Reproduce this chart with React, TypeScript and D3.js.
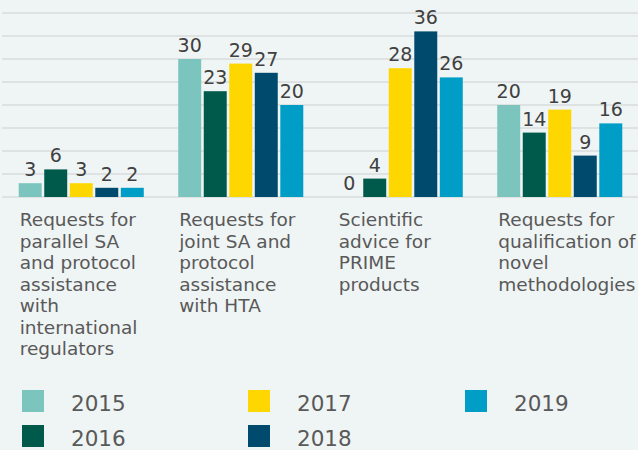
import { useEffect, useRef } from 'react';
import * as d3 from 'd3';

// category labels, with the line breaks used in the chart
const categories = [
  'Requests for\nparallel SA\nand protocol\nassistance\nwith\ninternational\nregulators',
  'Requests for\njoint SA and\nprotocol\nassistance\nwith HTA',
  'Scientific\nadvice for\nPRIME\nproducts',
  'Requests for\nqualification of\nnovel\nmethodologies',
];

const years = ['2015', '2016', '2017', '2018', '2019'];

const values2015 = [3, 30, 0, 20];
const values2016 = [6, 23, 4, 14];
const values2017 = [3, 29, 28, 19];
const values2018 = [2, 27, 36, 9];
const values2019 = [2, 20, 26, 16];

const yTicks = [0, 5, 10, 15, 20, 25, 30, 35, 40];

const colors = ['#7cc5be', '#005a4c', '#ffd700', '#004a6d', '#009dc6'];

export default function App() {
  const svgRef = useRef<SVGSVGElement>(null);

  useEffect(() => {
    if (!svgRef.current) return;
    const width = 638;
    const height = 450;
    const fontFamily = '"DejaVu Sans", Verdana, sans-serif';

    const svg = d3.select(svgRef.current);
    svg.selectAll('*').remove();
    svg.attr('width', width).attr('height', height);

    svg
      .append('rect')
      .attr('width', width)
      .attr('height', height)
      .attr('fill', '#eff4f4');

    const series = [values2015, values2016, values2017, values2018, values2019];
    const table = categories.map((c, i) => ({
      category: c,
      values: years.map((y, j) => ({ year: y, value: series[j][i] })),
    }));

    const x0 = d3
      .scaleBand()
      .domain(categories)
      .range([1.5, 639.5])
      .paddingInner(0.216)
      .paddingOuter(0.108);

    const x1 = d3
      .scaleBand()
      .domain(years)
      .range([0, x0.bandwidth()])
      .paddingInner(0.1);

    const y = d3.scaleLinear().domain([0, 40]).range([197, 13]);

    const color = d3.scaleOrdinal<string, string>().domain(years).range(colors);

    // gridlines
    svg
      .append('g')
      .selectAll('line')
      .data(yTicks)
      .enter()
      .append('line')
      .attr('x1', 2)
      .attr('x2', width)
      .attr('y1', (d) => y(d))
      .attr('y2', (d) => y(d))
      .attr('stroke', '#d9dddd')
      .attr('stroke-width', 1.5);

    const groups = svg
      .append('g')
      .selectAll('g')
      .data(table)
      .enter()
      .append('g')
      .attr('transform', (d) => `translate(${x0(d.category)},0)`);

    groups
      .selectAll('rect')
      .data((d) => d.values)
      .enter()
      .append('rect')
      .attr('x', (d) => x1(d.year) || 0)
      .attr('y', (d) => y(d.value))
      .attr('width', x1.bandwidth())
      .attr('height', (d) => y(0) - y(d.value))
      .attr('fill', (d) => color(d.year));

    groups
      .selectAll('text.value')
      .data((d) => d.values)
      .enter()
      .append('text')
      .attr('class', 'value')
      .attr('x', (d) => (x1(d.year) || 0) + x1.bandwidth() / 2)
      .attr('y', (d) => y(d.value) - 7)
      .attr('text-anchor', 'middle')
      .style('font-family', fontFamily)
      .style('font-size', '19px')
      .style('fill', '#404040')
      .text((d) => d.value);

    // category labels under the groups
    groups
      .append('text')
      .attr('x', 2)
      .attr('y', 226)
      .style('font-family', fontFamily)
      .style('font-size', '18.5px')
      .style('fill', '#595959')
      .selectAll('tspan')
      .data((d) => d.category.split('\n'))
      .enter()
      .append('tspan')
      .attr('x', 1)
      .attr('dy', (_, i) => (i === 0 ? 0 : 21.5))
      .text((d) => d);

    // legend, two rows filled column by column
    const legendCols = [22, 248, 465];
    const legendRows = [390, 425];
    const legend = svg
      .append('g')
      .selectAll('g')
      .data(years)
      .enter()
      .append('g')
      .attr(
        'transform',
        (_, i) => `translate(${legendCols[Math.floor(i / 2)]},${legendRows[i % 2]})`
      );

    legend
      .append('rect')
      .attr('width', 22)
      .attr('height', 22)
      .attr('fill', (d) => color(d));

    legend
      .append('text')
      .attr('x', 49)
      .attr('y', 20.5)
      .style('font-family', fontFamily)
      .style('font-size', '21.5px')
      .style('fill', '#595959')
      .text((d) => d);
  }, []);

  return (
    <div style={{ position: 'absolute', left: 0, top: 0 }}>
      <svg ref={svgRef} style={{ display: 'block' }} />
    </div>
  );
}
